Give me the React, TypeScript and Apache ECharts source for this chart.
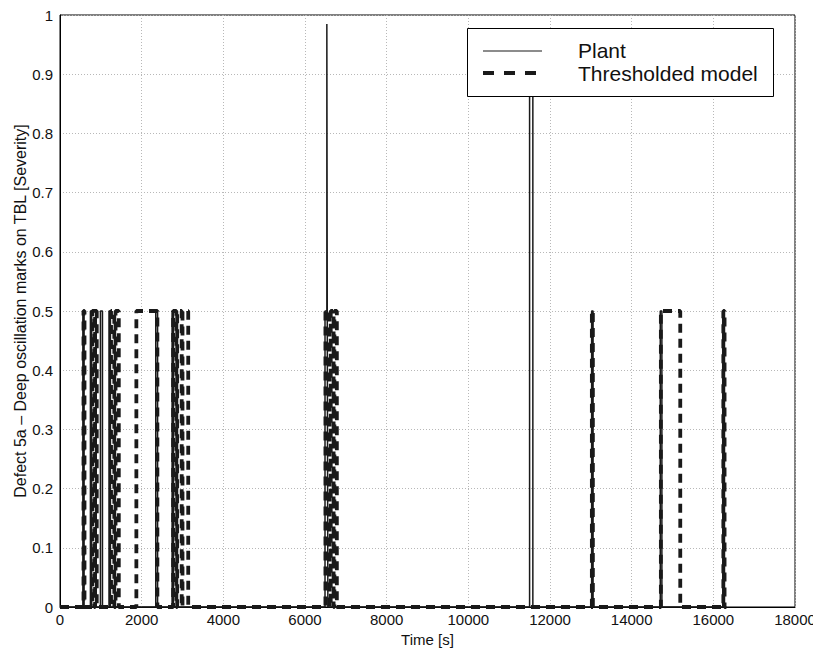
import React, { useEffect, useRef } from "react";
import * as echarts from "echarts";

const FONT = '"Liberation Sans", Arial, Helvetica, sans-serif';

// Plant severity: times [s] where the level changes, and the new level
const plantStepTime = [560, 590, 745, 775, 990, 1040, 1200, 1235, 2345, 2390, 2745, 2780, 6490, 6535, 6545, 6560, 11500, 11580, 13020, 13055, 14700, 14740, 16230, 16265];
const plantStepLevel = [0.5, 0, 0.5, 0, 0.5, 0, 0.5, 0, 0.5, 0, 0.5, 0, 0.5, 0.985, 0.5, 0, 0.95, 0, 0.5, 0, 0.5, 0, 0.5, 0];

// Thresholded model severity
const modelStepTime = [575, 600, 790, 840, 860, 900, 1250, 1330, 1360, 1440, 1870, 2385, 2770, 2850, 2870, 2980, 3000, 3140, 6500, 6600, 6630, 6700, 6720, 6780, 13025, 13050, 14715, 15190, 16245, 16275];
const modelStepLevel = [0.5, 0, 0.5, 0, 0.5, 0, 0.5, 0, 0.5, 0, 0.5, 0, 0.5, 0, 0.5, 0, 0.5, 0, 0.5, 0, 0.5, 0, 0.5, 0, 0.5, 0, 0.5, 0, 0.5, 0];

const startTime = 0;
const endTime = 16320;

const xTicks = [0, 2000, 4000, 6000, 8000, 10000, 12000, 14000, 16000, 18000];
const yTicks = [0, 0.1, 0.2, 0.3, 0.4, 0.5, 0.6, 0.7, 0.8, 0.9, 1];

const legendNames = ["Plant", "Thresholded model"];

function toSteps(times: number[], levels: number[]): number[][] {
  const pts: number[][] = [[startTime, 0]];
  let prev = 0;
  for (let i = 0; i < times.length; i++) {
    pts.push([times[i], prev]);
    pts.push([times[i], levels[i]]);
    prev = levels[i];
  }
  pts.push([endTime, prev]);
  return pts;
}

const LINE = "#1a1a1a";
const MODEL_DASH = [9, 6];

export default function App() {
  const ref = useRef<HTMLDivElement>(null);
  useEffect(() => {
    if (!ref.current) return;
    const chart = echarts.init(ref.current, null, { renderer: "svg" });
    chart.setOption({
      animation: false,
      backgroundColor: "#fff",
      grid: {
        left: 52,
        right: 26,
        top: 7,
        bottom: 48,
        containLabel: false,
        outerBoundsMode: "none",
        show: true,
        borderColor: "#000",
        borderWidth: 1,
        backgroundColor: "transparent",
      },
      graphic: [
        {
          type: "rect",
          z: 100,
          shape: { x: 459.5, y: 20.5, width: 306, height: 68 },
          style: { fill: "#fff", stroke: "#000", lineWidth: 1 },
        },
        {
          type: "line",
          z: 101,
          shape: { x1: 475, y1: 43, x2: 534, y2: 43 },
          style: { stroke: LINE, lineWidth: 1.2 },
        },
        {
          type: "line",
          z: 101,
          shape: { x1: 475, y1: 65, x2: 534, y2: 65 },
          style: { stroke: LINE, lineWidth: 4, lineDash: [11, 10] },
        },
        {
          type: "text",
          z: 101,
          x: 570,
          y: 42,
          style: {
            text: legendNames[0],
            font: `21px ${FONT}`,
            fill: "#111",
            verticalAlign: "middle",
            align: "left",
          },
        },
        {
          type: "text",
          z: 101,
          x: 570,
          y: 65,
          style: {
            text: legendNames[1],
            font: `21px ${FONT}`,
            fill: "#111",
            verticalAlign: "middle",
            align: "left",
          },
        },
      ],
      xAxis: {
        type: "value",
        min: 0,
        max: 18000,
        interval: 2000,
        name: "Time [s]",
        nameLocation: "middle",
        nameGap: 25,
        nameMoveOverlap: false,
        nameTextStyle: { fontFamily: FONT, fontSize: 15, color: "#111" },
        axisLine: { show: true, lineStyle: { color: "#000", width: 1 } },
        axisTick: { show: false },
        axisLabel: {
          fontFamily: FONT,
          fontSize: 15,
          color: "#111",
          margin: 5,
          formatter: (v: number) => (xTicks.includes(v) ? String(v) : ""),
        },
        splitLine: { show: true, lineStyle: { color: "#b8b8b8", type: [1, 2], width: 1 } },
      },
      yAxis: {
        type: "value",
        min: 0,
        max: 1,
        interval: 0.1,
        name: "Defect 5a – Deep oscillation marks on TBL [Severity]",
        nameLocation: "middle",
        nameGap: 32,
        nameMoveOverlap: false,
        nameTextStyle: { fontFamily: FONT, fontSize: 16, color: "#111" },
        axisLine: { show: true, lineStyle: { color: "#000", width: 1 } },
        axisTick: { show: false },
        axisLabel: {
          fontFamily: FONT,
          fontSize: 15,
          color: "#111",
          margin: 7,
          formatter: (v: number) => {
            const r = Math.round(v * 10) / 10;
            return yTicks.includes(r) ? String(r) : "";
          },
        },
        splitLine: { show: true, lineStyle: { color: "#b8b8b8", type: [1, 2], width: 1 } },
      },
      series: [
        {
          name: legendNames[1],
          type: "line",
          data: toSteps(modelStepTime, modelStepLevel),
          symbol: "none",
          showSymbol: false,
          color: LINE,
          lineStyle: { color: LINE, width: 3.8, type: MODEL_DASH, cap: "butt" },
          z: 2,
        },
        {
          name: legendNames[0],
          type: "line",
          data: toSteps(plantStepTime, plantStepLevel),
          symbol: "none",
          showSymbol: false,
          color: LINE,
          lineStyle: { color: LINE, width: 1.5, type: "solid" },
          z: 3,
        },
      ],
    });
    return () => chart.dispose();
  }, []);
  return <div ref={ref} style={{ width: 813, height: 647 }} />;
}
